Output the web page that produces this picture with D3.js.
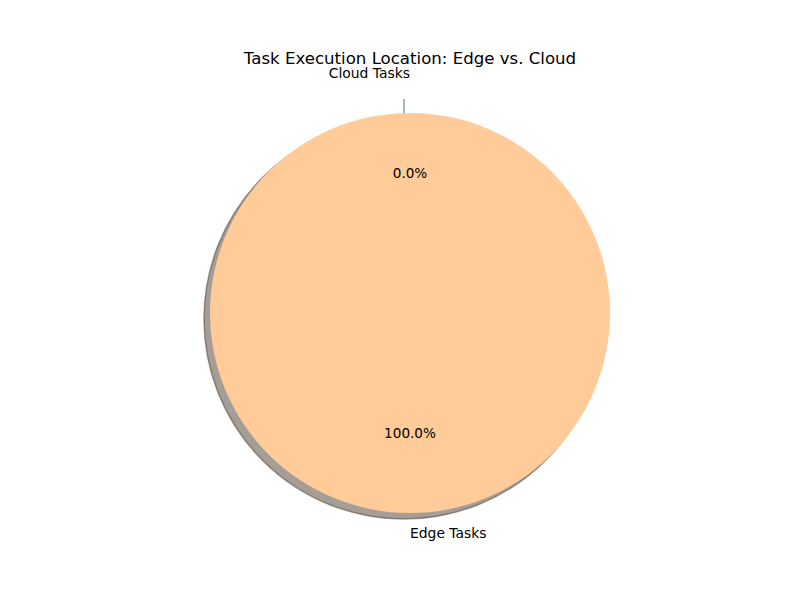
<!DOCTYPE html>
<html>
<head>
<meta charset="utf-8">
<script src="https://cdn.jsdelivr.net/npm/d3@7"></script>
<style>
  html, body { margin: 0; padding: 0; background: #fff; }
  text { font-family: "DejaVu Sans", sans-serif; }
</style>
</head>
<body>
<svg id="chart" width="800" height="600"></svg>
<script>
const title = "Task Execution Location: Edge vs. Cloud";
const categories = ["Cloud Tasks", "Edge Tasks"];
const values = [0, 100];
const explode = [0.1, 0];
const colors = ["#66b3ff", "#ffcc99"];

const W = 800, H = 600;
const cx = 410, cy = 313, R = 200;
const shadowDx = -6, shadowDy = 6;

const svg = d3.select("#chart");
svg.append("rect").attr("width", W).attr("height", H).attr("fill", "#fff");

svg.append("text")
  .attr("x", 410).attr("y", 58)
  .attr("text-anchor", "middle").attr("dominant-baseline", "central")
  .attr("font-size", 16.6).attr("fill", "#000")
  .text(title);

const pie = d3.pie().sort(null).value(d => d.value);
const data = categories.map((c, i) => ({ name: c, value: values[i], explode: explode[i], color: colors[i] }));
const arcs = pie(data);
const total = d3.sum(values);
const arc = d3.arc().innerRadius(0).outerRadius(R);

function offset(a) {
  const mid = (a.startAngle + a.endAngle) / 2;
  const d = a.data.explode * R;
  return [d * Math.sin(mid), -d * Math.cos(mid)];
}
function shade(c) {
  const rgb = d3.rgb(c);
  return d3.rgb(rgb.r * 0.3, rgb.g * 0.3, rgb.b * 0.3).formatHex();
}

const g = svg.append("g").attr("transform", `translate(${cx},${cy})`);

// shadows (below all wedges)
g.selectAll("path.shadow").data(arcs).join("path")
  .attr("class", "shadow")
  .attr("transform", a => { const o = offset(a); return `translate(${o[0] + shadowDx},${o[1] + shadowDy})`; })
  .attr("d", arc)
  .attr("fill", a => shade(a.data.color)).attr("fill-opacity", 0.5)
  .attr("stroke", a => shade(a.data.color)).attr("stroke-opacity", 0.5)
  .attr("stroke-width", 1.5);

// wedges
g.selectAll("path.wedge").data(arcs).join("path")
  .attr("class", "wedge")
  .attr("transform", a => { const o = offset(a); return `translate(${o[0]},${o[1]})`; })
  .attr("d", arc)
  .attr("fill", a => a.data.color);

// labels
arcs.forEach(a => {
  const o = offset(a);
  const mid = (a.startAngle + a.endAngle) / 2;
  const lx = o[0] + 1.1 * R * Math.sin(mid);
  const ly = o[1] - 1.1 * R * Math.cos(mid);
  const sx = Math.sin(mid);
  const anchor = sx > 1e-9 ? "start" : sx < -1e-9 ? "end" : (ly < 0 ? "end" : "start");
  g.append("text")
    .attr("x", lx).attr("y", ly)
    .attr("text-anchor", anchor).attr("dominant-baseline", "central")
    .attr("font-size", 13.9).attr("fill", "#000")
    .text(a.data.name);
  const px = o[0] + 0.6 * R * Math.sin(mid);
  const py = o[1] - 0.6 * R * Math.cos(mid);
  g.append("text")
    .attr("x", px).attr("y", py)
    .attr("text-anchor", "middle").attr("dominant-baseline", "central")
    .attr("font-size", 13.6).attr("fill", "#000")
    .text((a.data.value / total * 100).toFixed(1) + "%");
});
</script>
</body>
</html>
